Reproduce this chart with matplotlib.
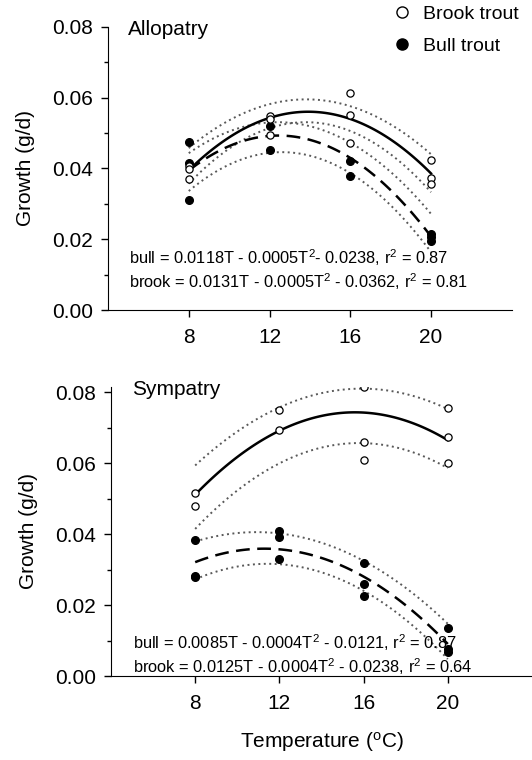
import numpy as np
import matplotlib

matplotlib.use("Agg")
import matplotlib.pyplot as plt
from matplotlib.lines import Line2D

plt.rcParams["font.family"] = ["Liberation Sans", "DejaVu Sans"]
plt.rcParams["mathtext.fontset"] = "custom"
plt.rcParams["mathtext.rm"] = "Liberation Sans"
plt.rcParams["mathtext.it"] = "Liberation Sans"

# temperatures (x)
temps = [8, 12, 16, 20]

# --- Allopatry: raw points (T, growth)
allo_brook_T = [8, 8, 8, 12, 12, 12, 16, 16, 16, 20, 20, 20]
allo_brook_g = [0.0408, 0.0399, 0.0370, 0.0549, 0.0541, 0.0495,
                0.0613, 0.0551, 0.0473, 0.0424, 0.0374, 0.0355]
allo_bull_T = [8, 8, 8, 12, 12, 16, 16, 20, 20, 20]
allo_bull_g = [0.0476, 0.0415, 0.0311, 0.0520, 0.0453,
               0.0421, 0.0379, 0.0214, 0.0205, 0.0196]

# Allopatry: fitted curves and 95% bands read at 8, 12, 16, 20
allo_brook_fit = [0.0396, 0.0540, 0.0543, 0.0385]
allo_brook_hi = [0.0460, 0.0575, 0.0583, 0.0438]
allo_brook_lo = [0.0355, 0.0520, 0.0500, 0.0335]
allo_bull_fit = [0.0395, 0.0490, 0.0432, 0.0207]
allo_bull_hi = [0.0445, 0.0525, 0.0478, 0.0270]
allo_bull_lo = [0.0335, 0.0448, 0.0383, 0.0165]

# --- Sympatry: raw points
sym_brook_T = [8, 8, 12, 12, 16, 16, 16, 20, 20, 20]
sym_brook_g = [0.0516, 0.0479, 0.0749, 0.0693, 0.0813,
               0.0658, 0.0608, 0.0754, 0.0674, 0.0601]
sym_bull_T = [8, 8, 8, 12, 12, 12, 16, 16, 16, 20, 20, 20]
sym_bull_g = [0.0382, 0.0282, 0.0278, 0.0408, 0.0392, 0.0331,
              0.0319, 0.0259, 0.0225, 0.0136, 0.0075, 0.0068]

sym_brook_fit = [0.0510, 0.0693, 0.0740, 0.0665]
sym_brook_hi = [0.0594, 0.0754, 0.0812, 0.0751]
sym_brook_lo = [0.0418, 0.0588, 0.0667, 0.0582]
sym_bull_fit = [0.0319, 0.0362, 0.0275, 0.0092]
sym_bull_hi = [0.0378, 0.0404, 0.0322, 0.0148]
sym_bull_lo = [0.0270, 0.0322, 0.0233, 0.0050]

allo_eqs = [
    r"bull = 0.0118T - 0.0005T$^{2}$- 0.0238, r$^{2}$ = 0.87",
    r"brook = 0.0131T - 0.0005T$^{2}$ - 0.0362, r$^{2}$ = 0.81",
]
sym_eqs = [
    r"bull = 0.0085T - 0.0004T$^{2}$ - 0.0121, r$^{2}$ = 0.87",
    r"brook = 0.0125T - 0.0004T$^{2}$ - 0.0238, r$^{2}$ = 0.64",
]

DOT = dict(color="0.35", lw=1.4, ls=(0, (1, 1.8)))


def smooth(ax, vals, **kw):
    c = np.polyfit(temps, vals, 2)
    t = np.linspace(temps[0], temps[-1], 100)
    ax.plot(t, np.polyval(c, t), **kw)


def draw_panel(ax, brook, bull, title, eqs, eq_y):
    bT, bg, brook_fit, brook_hi, brook_lo = brook
    uT, ug, bull_fit, bull_hi, bull_lo = bull

    for v in (brook_hi, brook_lo, bull_hi, bull_lo):
        smooth(ax, v, **DOT)
    smooth(ax, brook_fit, color="k", lw=1.8)
    smooth(ax, bull_fit, color="k", lw=1.8, ls=(0, (5.5, 3)))

    ax.plot(uT, ug, "o", ms=5.5, mfc="k", mec="k", zorder=4)
    ax.plot(bT, bg, "o", ms=5.2, mfc="white", mec="k", mew=0.9, zorder=5)

    ax.set_xlim(4, 24)
    ax.set_xticks(temps)
    ax.set_yticks([0, 0.02, 0.04, 0.06, 0.08])
    ax.set_yticks([0.01, 0.03, 0.05, 0.07], minor=True)
    ax.yaxis.set_major_formatter(matplotlib.ticker.FormatStrFormatter("%.2f"))
    ax.tick_params(labelsize=15, length=5, width=1)
    ax.tick_params(axis="y", pad=6)
    ax.tick_params(axis="x", pad=8)
    ax.tick_params(axis="y", which="minor", length=3, width=1)
    ax.spines["top"].set_visible(False)
    ax.spines["right"].set_visible(False)
    ax.set_ylabel("Growth (g/d)", fontsize=15, labelpad=12)

    ax.text(0.05, 0.99, title, transform=ax.transAxes, fontsize=15,
            va="center", ha="left")
    for i, e in enumerate(eqs):
        ax.text(0.052, eq_y[i], e, transform=ax.transAxes, fontsize=11.8,
                va="center", ha="left")


fig = plt.figure(figsize=(5.32, 7.6), dpi=100)
ax1 = fig.add_axes([0.203, 0.5921, 0.759, 0.3724])
ax2 = fig.add_axes([0.2086, 0.1105, 0.7914, 0.3807])

draw_panel(ax1,
           (allo_brook_T, allo_brook_g, allo_brook_fit, allo_brook_hi, allo_brook_lo),
           (allo_bull_T, allo_bull_g, allo_bull_fit, allo_bull_hi, allo_bull_lo),
           "Allopatry", allo_eqs, [0.184, 0.099])
ax1.set_ylim(0, 0.08)

draw_panel(ax2,
           (sym_brook_T, sym_brook_g, sym_brook_fit, sym_brook_hi, sym_brook_lo),
           (sym_bull_T, sym_bull_g, sym_bull_fit, sym_bull_hi, sym_bull_lo),
           "Sympatry", sym_eqs, [0.114, 0.031])
ax2.set_ylim(0, 0.0815)
ax2.set_xlabel(r"Temperature ($^{\rm o}$C)", fontsize=15, labelpad=12)

handles = [
    Line2D([], [], ls="", marker="o", ms=8, mfc="white", mec="k", mew=1),
    Line2D([], [], ls="", marker="o", ms=8, mfc="k", mec="k"),
]
fig.legend(handles, ["Brook trout", "Bull trout"], loc="upper left",
           bbox_to_anchor=(392 / 532, 1 - 5 / 760), frameon=False,
           fontsize=14, handlelength=1, handletextpad=0.6,
           labelspacing=0.75, borderpad=0, borderaxespad=0)

fig.savefig("out.png", dpi=100)
